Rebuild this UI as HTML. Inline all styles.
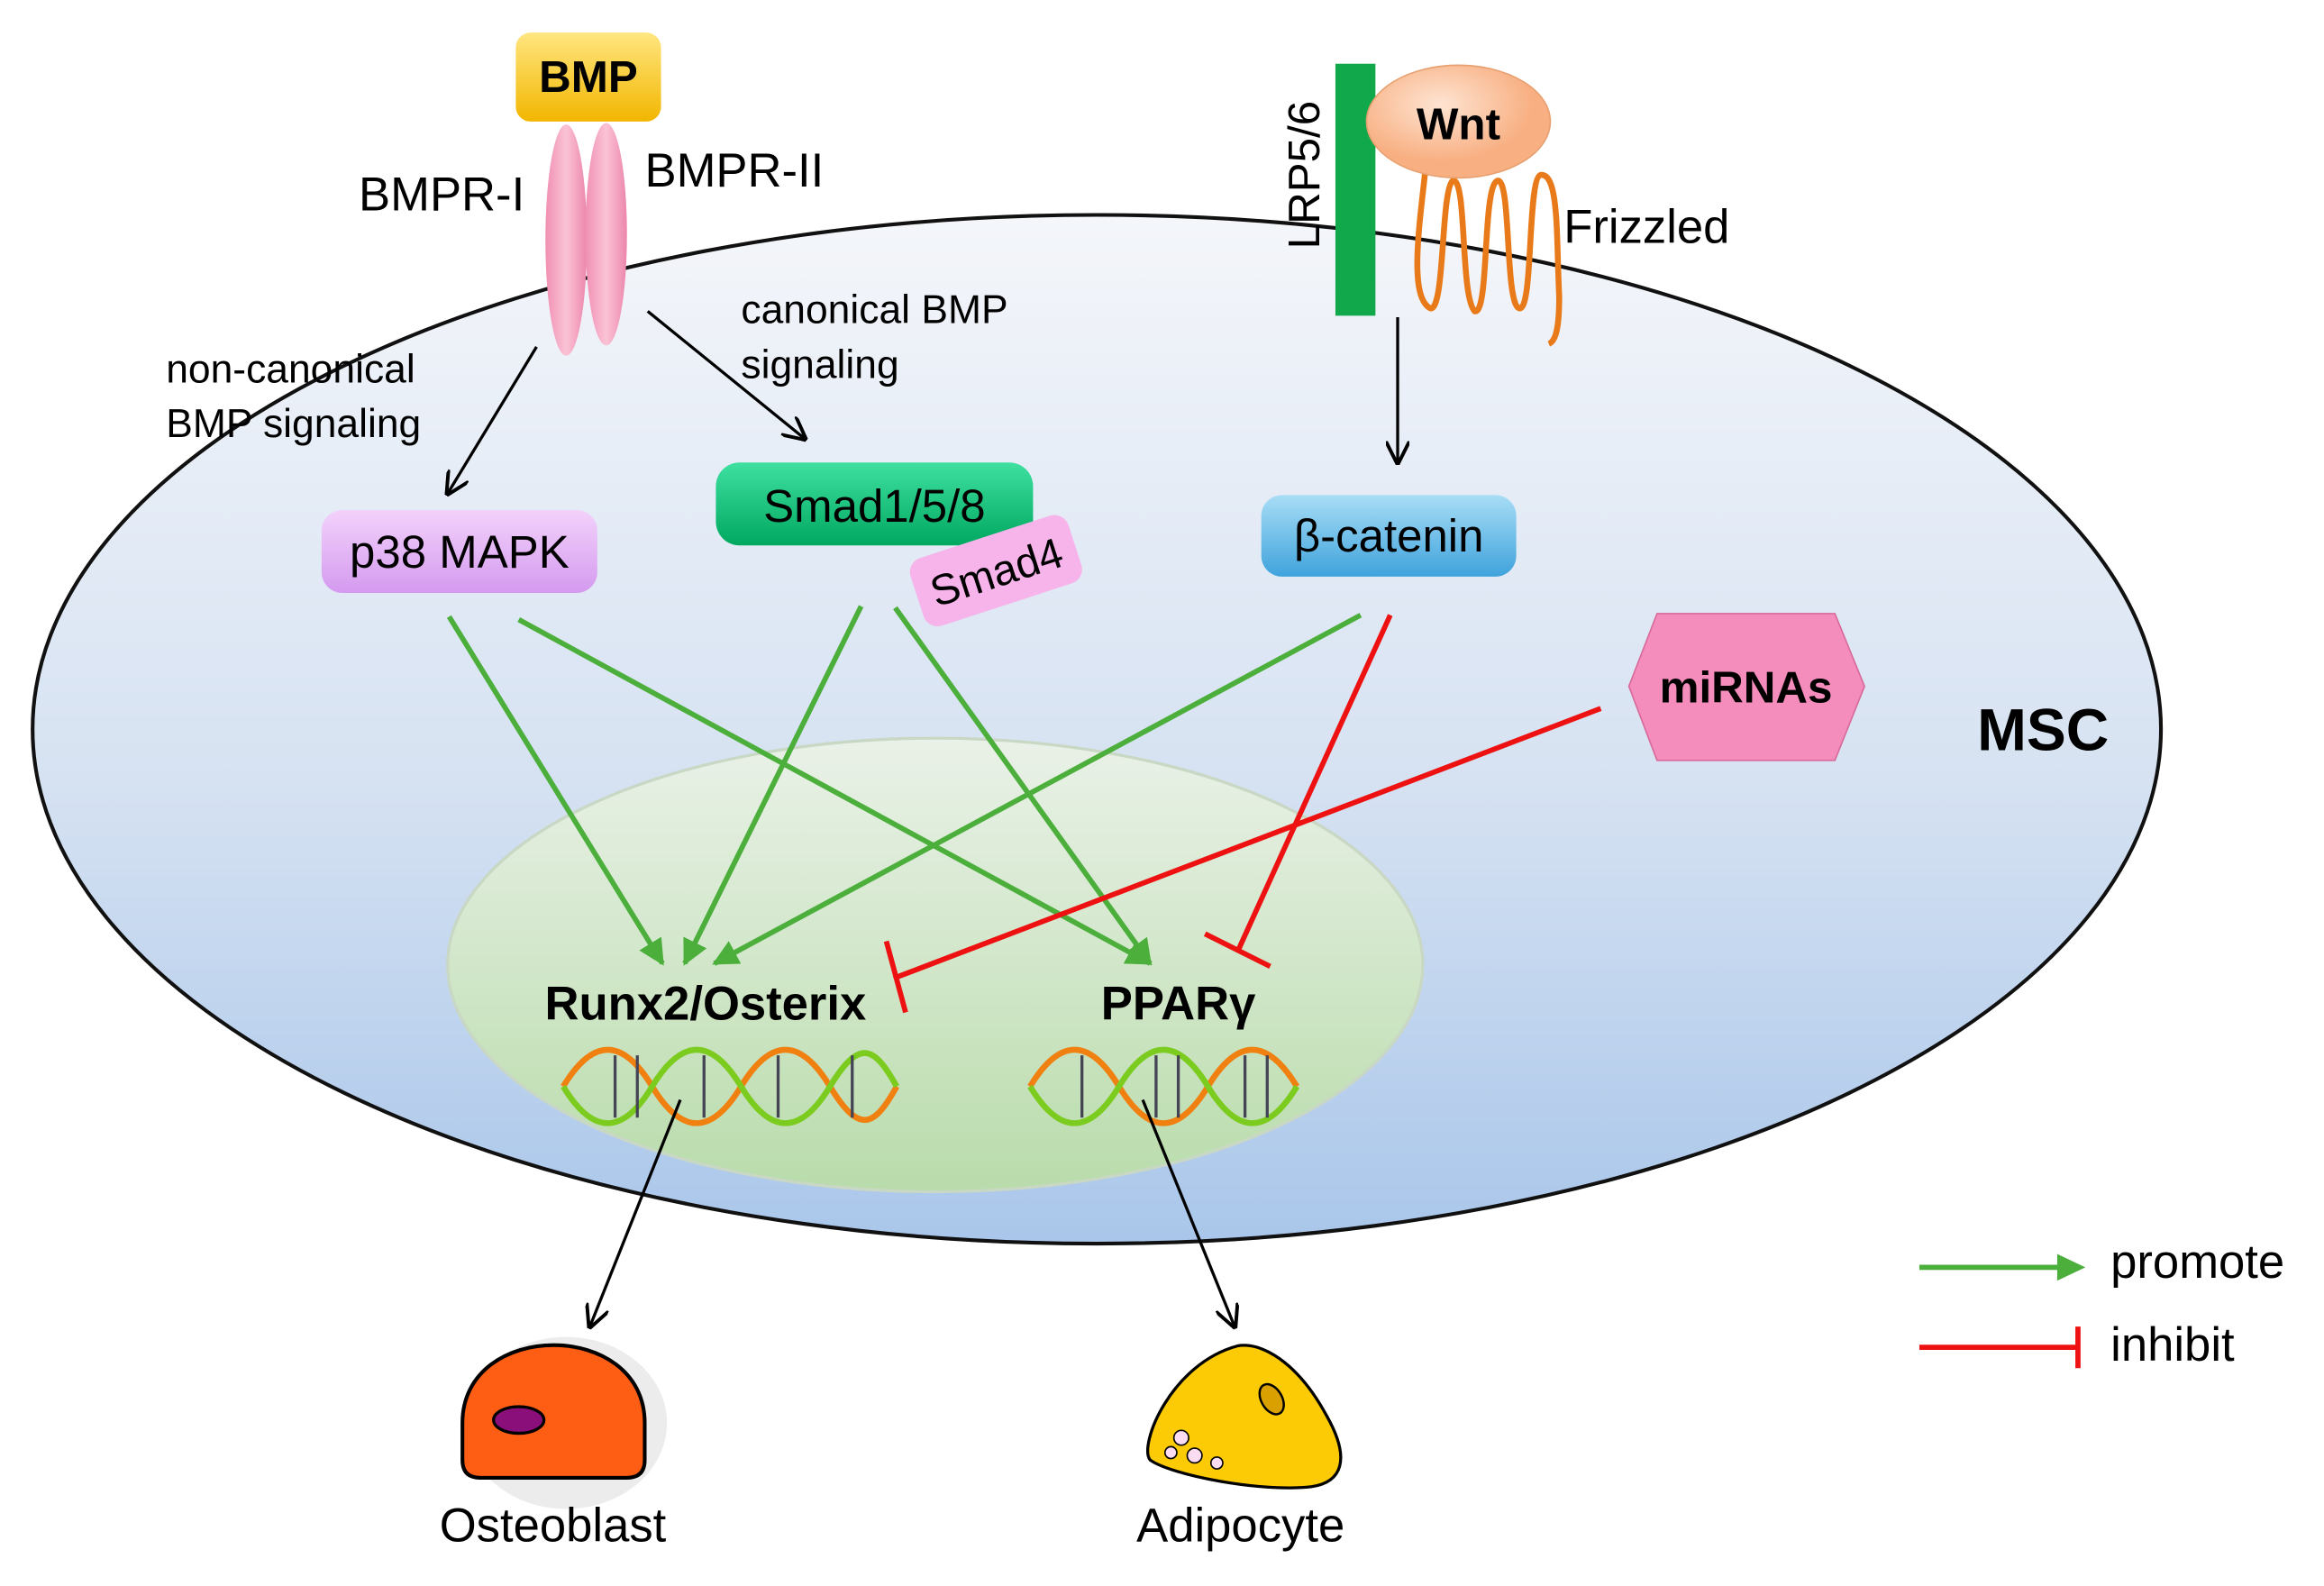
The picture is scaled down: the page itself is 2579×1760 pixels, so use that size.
<!DOCTYPE html>
<html><head><meta charset="utf-8"><style>html,body{margin:0;padding:0;background:#fff}svg{display:block}</style></head><body>
<svg width="2579" height="1760" viewBox="0 0 1568 1070" preserveAspectRatio="none" xmlns="http://www.w3.org/2000/svg" font-family="Liberation Sans, sans-serif">
<defs>
<linearGradient id="cell" x1="0" y1="0" x2="0" y2="1"><stop offset="0" stop-color="#f4f6fa"/><stop offset="0.55" stop-color="#d6e2f2"/><stop offset="1" stop-color="#a9c6ea"/></linearGradient>
<linearGradient id="nuc" x1="0" y1="0" x2="0" y2="1"><stop offset="0" stop-color="#eaf1e8"/><stop offset="1" stop-color="#b9dcab"/></linearGradient>
<linearGradient id="bmp" x1="0" y1="0" x2="0" y2="1"><stop offset="0" stop-color="#ffe680"/><stop offset="1" stop-color="#f2b600"/></linearGradient>
<linearGradient id="smad" x1="0" y1="0" x2="0" y2="1"><stop offset="0" stop-color="#3fe0a0"/><stop offset="1" stop-color="#00a860"/></linearGradient>
<linearGradient id="bcat" x1="0" y1="0" x2="0" y2="1"><stop offset="0" stop-color="#a8ddf6"/><stop offset="1" stop-color="#3fa3dc"/></linearGradient>
<linearGradient id="p38" x1="0" y1="0" x2="0" y2="1"><stop offset="0" stop-color="#f3d2fb"/><stop offset="1" stop-color="#d49aef"/></linearGradient>
<linearGradient id="rec" x1="0" y1="0" x2="1" y2="0"><stop offset="0" stop-color="#f08fb2"/><stop offset="0.5" stop-color="#fbc3d6"/><stop offset="1" stop-color="#ec86ab"/></linearGradient>
<radialGradient id="wnt" cx="0.4" cy="0.35"><stop offset="0" stop-color="#fee4d2"/><stop offset="1" stop-color="#f8b083"/></radialGradient>
<marker id="ag" viewBox="0 0 10 10" refX="9" refY="5" markerWidth="5" markerHeight="5" orient="auto"><path d="M0,0 L10,5 L0,10 z" fill="#4caf3c"/></marker>
<marker id="ak" viewBox="0 0 10 10" refX="9" refY="5" markerWidth="8" markerHeight="8" orient="auto"><path d="M0,0 L10,5 L0,10" fill="none" stroke="#000" stroke-width="1.5"/></marker>
</defs>
<ellipse cx="740" cy="492" rx="718" ry="347" fill="url(#cell)" stroke="#111" stroke-width="2.5"/>
<ellipse cx="631" cy="651" rx="329" ry="153" fill="url(#nuc)" stroke="#c8d8c4" stroke-width="2"/>
<text x="1334" y="506" font-size="40" font-weight="bold">MSC</text>
<rect x="348" y="22" width="98" height="60" rx="10" fill="url(#bmp)"/>
<text x="397" y="62" font-size="30" font-weight="bold" text-anchor="middle">BMP</text>
<ellipse cx="382" cy="162" rx="14" ry="78" fill="url(#rec)"/>
<ellipse cx="409" cy="158" rx="14" ry="75" fill="url(#rec)"/>
<text x="242" y="142" font-size="32">BMPR-I</text>
<text x="435" y="126" font-size="32">BMPR-II</text>
<text x="112" y="258" font-size="27">non-canonical</text>
<text x="112" y="295" font-size="27">BMP signaling</text>
<text x="500" y="218" font-size="27">canonical BMP</text>
<text x="500" y="255" font-size="27">signaling</text>
<line x1="362" y1="234" x2="302" y2="333" stroke="#000" stroke-width="2" marker-end="url(#ak)"/>
<line x1="437" y1="210" x2="543" y2="296" stroke="#000" stroke-width="2" marker-end="url(#ak)"/>
<rect x="901" y="43" width="27" height="170" fill="#10a84a"/>
<text transform="translate(890,168) rotate(-90)" font-size="30">LRP5/6</text>
<path d="M962,112 C958,150 950,200 965,208 C975,210 972,130 980,122 C990,118 985,200 995,210 C1005,212 1000,128 1010,122 C1020,118 1015,205 1025,208 C1035,210 1030,118 1040,118 C1052,118 1050,160 1052,200 C1052,220 1050,230 1045,232" fill="none" stroke="#e87a1a" stroke-width="4"/>
<ellipse cx="984" cy="82" rx="62" ry="38" fill="url(#wnt)" stroke="#e8a070" stroke-width="1"/>
<text x="984" y="94" font-size="30" font-weight="bold" text-anchor="middle">Wnt</text>
<text x="1055" y="164" font-size="32">Frizzled</text>
<line x1="943" y1="214" x2="943" y2="312" stroke="#000" stroke-width="2" marker-end="url(#ak)"/>
<rect x="217" y="344" width="186" height="56" rx="14" fill="url(#p38)"/>
<text x="310" y="383" font-size="31" text-anchor="middle">p38 MAPK</text>
<rect x="483" y="312" width="214" height="56" rx="16" fill="url(#smad)"/>
<text x="590" y="352" font-size="31" text-anchor="middle">Smad1/5/8</text>
<g transform="translate(672,385) rotate(-18)"><rect x="-56" y="-24" width="112" height="48" rx="10" fill="#f7b4ea"/><text x="0" y="11" font-size="29" text-anchor="middle">Smad4</text></g>
<rect x="851" y="334" width="172" height="55" rx="14" fill="url(#bcat)"/>
<text x="937" y="372" font-size="31" text-anchor="middle">β-catenin</text>
<polygon points="1118,414 1238,414 1258,463 1238,513 1118,513 1099,463" fill="#f48cbc" stroke="#d86a9a"/>
<text x="1178" y="474" font-size="30" font-weight="bold" text-anchor="middle">miRNAs</text>
<g stroke="#4caf3c" stroke-width="3.5" fill="none" marker-end="url(#ag)">
<line x1="303" y1="416" x2="447" y2="650"/>
<line x1="350" y1="418" x2="776" y2="650"/>
<line x1="581" y1="409" x2="462" y2="650"/>
<line x1="604" y1="410" x2="776" y2="650"/>
<line x1="918" y1="415" x2="482" y2="650"/>
</g>
<g stroke="#ee1111" stroke-width="3.5" fill="none">
<line x1="1080" y1="478" x2="603" y2="660"/>
<line x1="598" y1="635" x2="611" y2="683"/>
<line x1="938" y1="415" x2="835" y2="642"/>
<line x1="813" y1="630" x2="857" y2="652"/>
</g>
<text x="476" y="688" font-size="32" font-weight="bold" text-anchor="middle">Runx2/Osterix</text>
<text x="795" y="688" font-size="32" font-weight="bold" text-anchor="middle">PPARγ</text>
<g fill="none" stroke-width="4">
<path d="M380,733 C400,700 420,700 440,733 S480,766 500,733 S540,700 560,733 S590,760 605,733" stroke="#f08010"/>
<path d="M380,733 C400,766 420,766 440,733 S480,700 500,733 S540,766 560,733 S590,706 605,733" stroke="#7ccc20"/>
<path d="M695,733 C715,700 735,700 755,733 S795,766 815,733 S855,700 875,733" stroke="#f08010"/>
<path d="M695,733 C715,766 735,766 755,733 S795,700 815,733 S855,766 875,733" stroke="#7ccc20"/>
</g>
<g stroke="#445" stroke-width="2">
<line x1="415" y1="712" x2="415" y2="754"/><line x1="430" y1="712" x2="430" y2="754"/><line x1="475" y1="712" x2="475" y2="754"/><line x1="525" y1="712" x2="525" y2="754"/><line x1="575" y1="712" x2="575" y2="754"/>
<line x1="730" y1="712" x2="730" y2="754"/><line x1="780" y1="712" x2="780" y2="754"/><line x1="795" y1="712" x2="795" y2="754"/><line x1="840" y1="712" x2="840" y2="754"/><line x1="855" y1="712" x2="855" y2="754"/>
</g>
<line x1="459" y1="742" x2="398" y2="895" stroke="#000" stroke-width="2" marker-end="url(#ak)"/>
<line x1="771" y1="742" x2="833" y2="895" stroke="#000" stroke-width="2" marker-end="url(#ak)"/>
<ellipse cx="382" cy="960" rx="68" ry="58" fill="#e0e0e0" opacity="0.6"/>
<path d="M312,985 L312,960 C312,890 435,890 435,960 L435,985 Q435,997 423,997 L324,997 Q312,997 312,985 z" fill="#fe5e14" stroke="#000" stroke-width="2.5"/>
<ellipse cx="350" cy="958" rx="17" ry="9" fill="#8b0f7a" stroke="#000" stroke-width="2"/>
<text x="373" y="1040" font-size="32" text-anchor="middle">Osteoblast</text>
<path d="M835,908 C850,905 875,918 895,955 C912,985 905,1000 885,1003 C850,1007 790,995 776,985 C768,975 790,920 835,908 z" fill="#fdcb06" stroke="#000" stroke-width="2"/>
<ellipse cx="858" cy="944" rx="7" ry="11" transform="rotate(-30 858 944)" fill="#d9a000" stroke="#000" stroke-width="1.5"/>
<circle cx="797" cy="970" r="5" fill="#fbdcf2" stroke="#000"/><circle cx="790" cy="980" r="4" fill="#fbdcf2" stroke="#000"/><circle cx="806" cy="982" r="5" fill="#fbdcf2" stroke="#000"/><circle cx="821" cy="987" r="4" fill="#fbdcf2" stroke="#000"/>
<text x="837" y="1040" font-size="32" text-anchor="middle">Adipocyte</text>
<line x1="1295" y1="855" x2="1392" y2="855" stroke="#4caf3c" stroke-width="3.5"/>
<path d="M1388,846 L1407,855 L1388,864 z" fill="#4caf3c"/>
<text x="1424" y="862" font-size="32">promote</text>
<line x1="1295" y1="909" x2="1402" y2="909" stroke="#ee1111" stroke-width="3.5"/>
<line x1="1402" y1="895" x2="1402" y2="923" stroke="#ee1111" stroke-width="3.5"/>
<text x="1424" y="918" font-size="32">inhibit</text>
</svg>
</body></html>
